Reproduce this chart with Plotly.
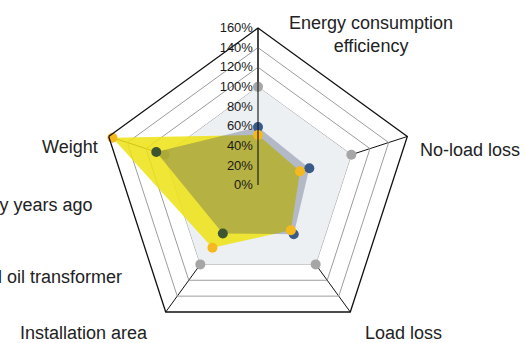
import plotly.graph_objects as go

categories = ["Energy consumption efficiency", "No-load loss", "Load loss",
              "Installation area", "Weight"]
reference_pct = [100, 100, 100, 100, 100]
old_transformer_pct = [59, 55, 62, 61, 109]
new_transformer_pct = [51, 45, 57, 79, 156]
radial_ticks = [0, 20, 40, 60, 80, 100, 120, 140, 160]
radial_labels = [f"{v}%" for v in radial_ticks]

FONT = "Liberation Sans, Arial, sans-serif"

fig = go.Figure()

# reference (100%) polygon
fig.add_trace(go.Scatterpolar(
    r=reference_pct, theta=categories, fill="toself", mode="markers",
    fillcolor="#EDF0F3", marker=dict(color="#A6A6A6", size=10),
    hoverinfo="skip"))
# new transformer fill
fig.add_trace(go.Scatterpolar(
    r=new_transformer_pct, theta=categories, fill="toself", mode="none",
    fillcolor="rgba(238,226,20,0.86)", hoverinfo="skip"))
# old transformer fill (overlay)
fig.add_trace(go.Scatterpolar(
    r=old_transformer_pct, theta=categories, fill="toself", mode="none",
    fillcolor="rgba(50,58,100,0.30)", hoverinfo="skip"))
# old transformer markers
fig.add_trace(go.Scatterpolar(
    r=old_transformer_pct, theta=categories, mode="markers",
    marker=dict(color=["#3C5A88", "#3C5A88", "#3C5A88", "#3D5530", "#3D5530"],
                size=10), hoverinfo="skip"))
# new transformer markers on top
fig.add_trace(go.Scatterpolar(
    r=new_transformer_pct, theta=categories, mode="markers",
    marker=dict(color="#F5B91E", size=10), hoverinfo="skip"))

fig.update_layout(
    width=525, height=343, margin=dict(l=0, r=0, t=0, b=0),
    paper_bgcolor="white", showlegend=False,
    font=dict(family=FONT, color="#222"),
    polar=dict(
        domain=dict(x=[101/525, 415/525], y=[1-342/343, 1-28/343]),
        bgcolor="white",
        gridshape="linear",
        angularaxis=dict(rotation=90, direction="clockwise",
                         showticklabels=False, ticks="",
                         showline=True, linecolor="#111", linewidth=1.3,
                         gridcolor="#111", gridwidth=1.1),
        radialaxis=dict(range=[0, 160], angle=90, tickangle=90,
                        tickvals=radial_ticks, ticktext=radial_labels,
                        side="counterclockwise", ticks="",
                        showline=True, linecolor="#111", linewidth=1.1,
                        gridcolor="#9C9C9C", gridwidth=0.9,
                        tickfont=dict(size=13, color="#1a1a1a", family=FONT)),
    ),
)

def label(text, x, y, xanchor):
    fig.add_annotation(text=text, x=x/525, y=1-y/343, xref="paper", yref="paper",
                       xanchor=xanchor, yanchor="middle", showarrow=False,
                       font=dict(size=18, family=FONT, color="#222"))

label("Energy consumption<br>efficiency", 371, 34, "center")
label("No-load loss", 418, 150, "left")
label("Load loss", 363, 333, "left")
label("Installation area", 150, 333, "right")
label("Weight", 100, 147, "right")
label("Transformer made many years ago", 94, 205, "right")
label("Conventional oil transformer", 124, 277, "right")

fig.write_html("out.html")
